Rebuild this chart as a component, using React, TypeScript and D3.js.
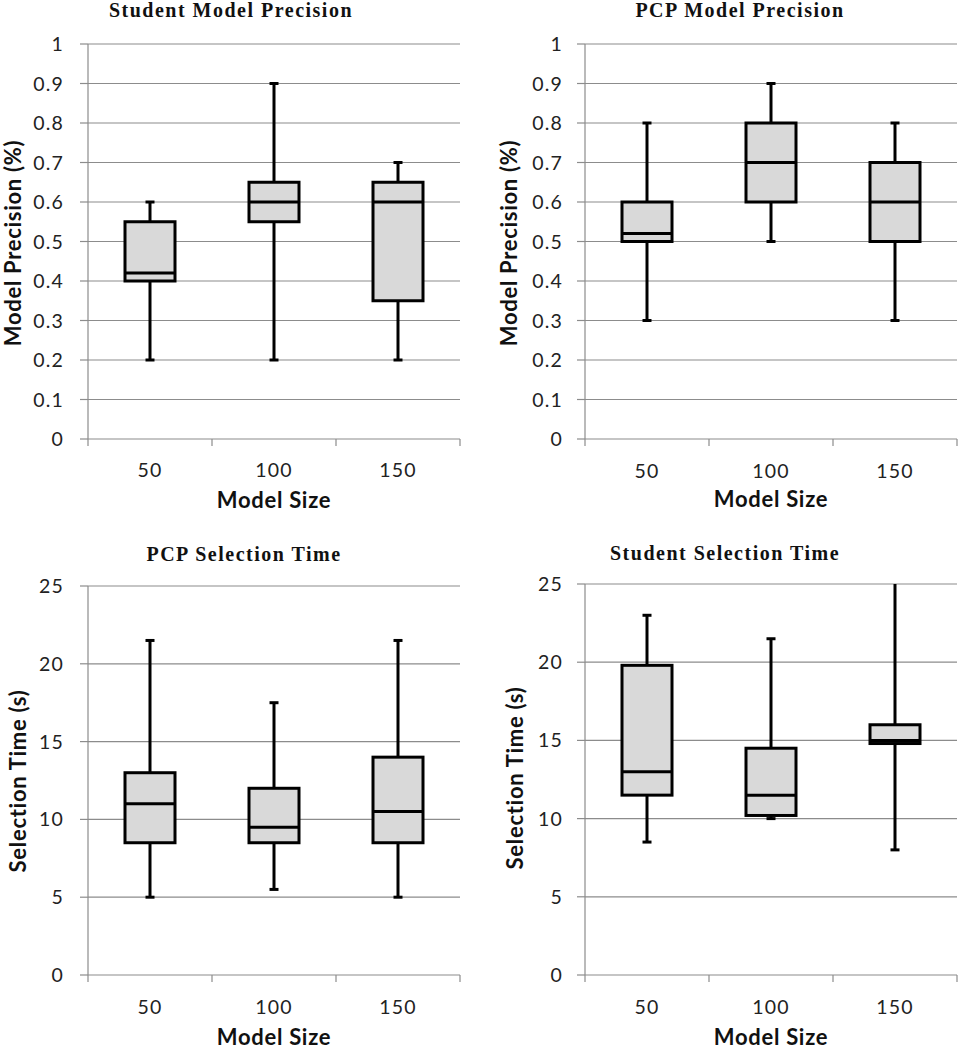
import React from "react";
import * as d3 from "d3";

// ---- data ----
const categories = ["50", "100", "150"];
const precisionTicks = [0, 0.1, 0.2, 0.3, 0.4, 0.5, 0.6, 0.7, 0.8, 0.9, 1];
const timeTicks = [0, 5, 10, 15, 20, 25];

// [min, q1, median, q3, max] per category
const studentPrecision = [
  [0.2, 0.4, 0.42, 0.55, 0.6],
  [0.2, 0.55, 0.6, 0.65, 0.9],
  [0.2, 0.35, 0.6, 0.65, 0.7],
];
const pcpPrecision = [
  [0.3, 0.5, 0.52, 0.6, 0.8],
  [0.5, 0.6, 0.7, 0.8, 0.9],
  [0.3, 0.5, 0.6, 0.7, 0.8],
];
const pcpTime = [
  [5, 8.5, 11, 13, 21.5],
  [5.5, 8.5, 9.5, 12, 17.5],
  [5, 8.5, 10.5, 14, 21.5],
];
const studentTime = [
  [8.5, 11.5, 13, 19.8, 23],
  [10, 10.2, 11.5, 14.5, 21.5],
  [8, 14.8, 15, 16, 25],
];

const titles = [
  "Student Model Precision",
  "PCP Model Precision",
  "PCP Selection Time",
  "Student Selection Time",
];
const yLabels = [
  "Model Precision (%)",
  "Model Precision (%)",
  "Selection Time (s)",
  "Selection Time (s)",
];
const xLabel = "Model Size";

const FONT = "Lato, 'Open Sans', sans-serif";
const TITLE_FONT = "'Liberation Serif', 'DejaVu Serif', serif";

type Layout = {
  x0: number; x1: number; top: number; bottom: number;
  titleX: number; titleY: number;
  yLabX: number; yLabY: number;
  tickRight: number; xTickY: number; xLabY: number;
};

function Panel({ title, yLabel, data, ticks, layout }: {
  title: string; yLabel: string; data: number[][]; ticks: number[]; layout: Layout;
}) {
  const L = layout;
  const x = d3.scaleBand<string>().domain(categories).range([L.x0, L.x1]).padding(0);
  const y = d3.scaleLinear().domain([ticks[0], ticks[ticks.length - 1]]).range([L.bottom, L.top]);
  const bw = 50;
  const cap = 9;
  const grid = "#8c8c8c";
  return (
    <g>
      <text x={L.titleX} y={L.titleY} textAnchor="middle" fontFamily={TITLE_FONT}
        fontWeight="bold" fontSize={20} letterSpacing={1.5} fill="#111">{title}</text>
      {ticks.map((t) => (
        <g key={t}>
          {t !== ticks[0] && (
            <line x1={L.x0} x2={L.x1} y1={y(t)} y2={y(t)} stroke={grid} strokeWidth={1.2} />
          )}
          <line x1={L.x0 - 8} x2={L.x0} y1={y(t)} y2={y(t)} stroke={grid} strokeWidth={1.2} />
          <text x={L.tickRight + 1} y={y(t)} dy="0.36em" textAnchor="end" fontFamily={FONT}
            fontSize={19.5} letterSpacing={1.2} fill="#222">{String(t)}</text>
        </g>
      ))}
      {/* axes */}
      <line x1={L.x0} x2={L.x1} y1={L.bottom} y2={L.bottom} stroke={grid} strokeWidth={1.2} />
      <line x1={L.x0} x2={L.x0} y1={L.top} y2={L.bottom + 7} stroke={grid} strokeWidth={1.2} />
      {categories.map((c) => (
        <line key={"sep" + c} x1={(x(c) as number) + x.bandwidth()} x2={(x(c) as number) + x.bandwidth()}
          y1={L.bottom} y2={L.bottom + 7} stroke={grid} strokeWidth={1.2} />
      ))}
      {categories.map((c) => (
        <text key={"xl" + c} x={(x(c) as number) + x.bandwidth() / 2} y={L.xTickY} dy="0.36em"
          textAnchor="middle" fontFamily={FONT} fontSize={19.5} letterSpacing={1.2} fill="#222">{c}</text>
      ))}
      <text x={(L.x0 + L.x1) / 2} y={L.xLabY} dy="0.36em" textAnchor="middle" fontFamily={FONT}
        fontWeight="bold" fontSize={22} letterSpacing={0.7} fill="#111">{xLabel}</text>
      <text transform={`translate(${L.yLabX},${L.yLabY}) rotate(-90)`} dy="0.36em" textAnchor="middle"
        fontFamily={FONT} fontWeight="bold" fontSize={22} letterSpacing={0.7} fill="#111">{yLabel}</text>
      {/* boxes */}
      {data.map((d, i) => {
        const cx = (x(categories[i]) as number) + x.bandwidth() / 2;
        const [mn, q1, md, q3, mx] = d;
        const atTop = mx >= ticks[ticks.length - 1];
        return (
          <g key={i} stroke="#000" strokeWidth={3}>
            <line x1={cx} x2={cx} y1={y(mx)} y2={y(mn)} />
            {!atTop && <line x1={cx - cap / 2} x2={cx + cap / 2} y1={y(mx)} y2={y(mx)} />}
            <line x1={cx - cap / 2} x2={cx + cap / 2} y1={y(mn)} y2={y(mn)} />
            <rect x={cx - bw / 2} y={y(q3)} width={bw} height={y(q1) - y(q3)} fill="#d9d9d9" />
            <line x1={cx - bw / 2} x2={cx + bw / 2} y1={y(md)} y2={y(md)} />
          </g>
        );
      })}
    </g>
  );
}

export default function App() {
  const layouts: Layout[] = [
    { x0: 88, x1: 460, top: 44, bottom: 439, titleX: 231, titleY: 17, yLabX: 13, yLabY: 243, tickRight: 63, xTickY: 470, xLabY: 500 },
    { x0: 585, x1: 957, top: 44, bottom: 439, titleX: 740, titleY: 17, yLabX: 509, yLabY: 243, tickRight: 562, xTickY: 471, xLabY: 499 },
    { x0: 88, x1: 460, top: 586, bottom: 975, titleX: 244, titleY: 561, yLabX: 18, yLabY: 781, tickRight: 63, xTickY: 1007, xLabY: 1037 },
    { x0: 585, x1: 957, top: 584, bottom: 975, titleX: 725, titleY: 560, yLabX: 515, yLabY: 778, tickRight: 562, xTickY: 1007, xLabY: 1037 },
  ];
  const datasets = [studentPrecision, pcpPrecision, pcpTime, studentTime];
  const tickSets = [precisionTicks, precisionTicks, timeTicks, timeTicks];
  return (
    <svg width={958} height={1050} style={{ position: "absolute", left: 0, top: 0, background: "#fff" }}>
      <rect width={958} height={1050} fill="#fff" />
      {layouts.map((l, i) => (
        <Panel key={i} title={titles[i]} yLabel={yLabels[i]} data={datasets[i]} ticks={tickSets[i]} layout={l} />
      ))}
    </svg>
  );
}
